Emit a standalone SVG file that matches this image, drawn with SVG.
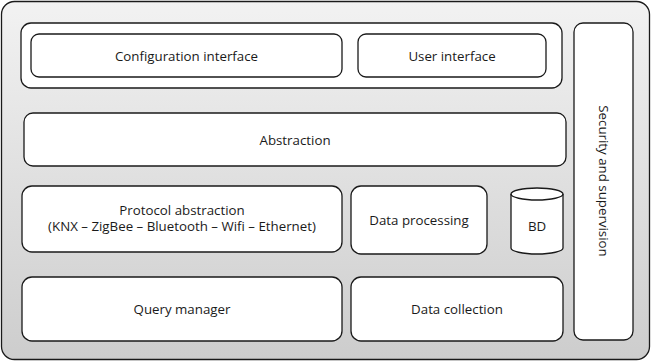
<svg xmlns="http://www.w3.org/2000/svg" width="651" height="361" viewBox="0 0 651 361">
<defs>
<linearGradient id="bg" x1="0" y1="0" x2="0" y2="1">
<stop offset="0" stop-color="#f2f2f2"/>
<stop offset="1" stop-color="#cdcdcd"/>
</linearGradient>
</defs>
<style>
.box{fill:#ffffff;stroke:#1a1a1a;stroke-width:1.3}
.t{font-family:"Open Sans","Liberation Sans",sans-serif;font-size:13.3px;fill:#1a1a1a;text-anchor:middle}
</style>
<g id="system">
<rect x="1.5" y="1.5" width="648" height="358" rx="13" fill="url(#bg)" stroke="#1a1a1a" stroke-width="1.3"/>
</g>
<g id="interfaces">
<rect class="box" x="21" y="23" width="541" height="65" rx="10"/>
</g>
<g id="config">
<rect class="box" x="31" y="34" width="311" height="43" rx="8"/>
<text class="t" x="186.5" y="61">Configuration interface</text>
</g>
<g id="user">
<rect class="box" x="358" y="34" width="188" height="43" rx="8"/>
<text class="t" x="452" y="61">User interface</text>
</g>
<g id="abstraction">
<rect class="box" x="24" y="113" width="542" height="53" rx="9"/>
<text class="t" x="295" y="144.5">Abstraction</text>
</g>
<g id="security">
<rect class="box" x="574" y="23" width="59" height="317" rx="9"/>
<text class="t" transform="translate(599,181) rotate(90)" x="0" y="0">Security and supervision</text>
</g>
<g id="protocol">
<rect class="box" x="22" y="186" width="320" height="66" rx="10"/>
<text class="t" x="182" y="215">Protocol abstraction</text>
<text class="t" x="182" y="230.5">(KNX – ZigBee – Bluetooth – Wifi – Ethernet)</text>
</g>
<g id="processing">
<rect class="box" x="351" y="186" width="136" height="68" rx="10"/>
<text class="t" x="419" y="224.5">Data processing</text>
</g>
<g id="bd">
<path class="box" d="M511,194 A26,6 0 0 1 563,194 L563,248 A26,6 0 0 1 511,248 Z"/>
<path d="M511,194 A26,6 0 0 0 563,194" fill="none" stroke="#1a1a1a" stroke-width="1.3"/>
<text class="t" x="537" y="230.5">BD</text>
</g>
<g id="query">
<rect class="box" x="22" y="277" width="320" height="64" rx="10"/>
<text class="t" x="182" y="313.5">Query manager</text>
</g>
<g id="collection">
<rect class="box" x="351" y="277" width="212" height="64" rx="10"/>
<text class="t" x="457" y="313.5">Data collection</text>
</g>
<g id="connectors"></g>
</svg>
